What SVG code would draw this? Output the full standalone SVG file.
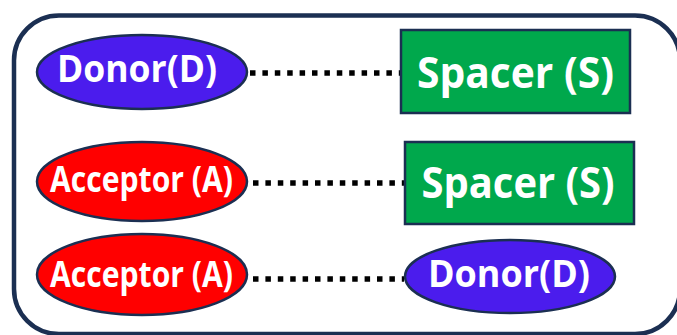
<svg xmlns="http://www.w3.org/2000/svg" width="677" height="335" viewBox="0 0 677 335">
  <style>
    .frame { fill: #ffffff; stroke: #1b2f52; stroke-width: 4.5; }
    .donor { fill: #4b1ced; stroke: #1b2f52; stroke-width: 2.5; }
    .acceptor { fill: #ff0000; stroke: #1b2f52; stroke-width: 2.5; }
    .spacer { fill: #00a84c; stroke: #1b2f52; stroke-width: 2.5; }
    .label { fill: #ffffff; font-family: "Open Sans", "Noto Sans", "Liberation Sans", sans-serif; font-weight: bold; text-anchor: middle; }
    .link { stroke: #000000; stroke-width: 5.5; stroke-dasharray: 5.5 6.9; fill: none; }
  </style>

  <!-- outer rounded container -->
  <rect class="frame" x="14" y="15.5" width="666" height="318.5" rx="45" ry="45"/>

  <!-- dotted connectors -->
  <g id="connectors">
    <line class="link" x1="250" y1="73" x2="400" y2="73"/>
    <line class="link" x1="253" y1="183" x2="404" y2="183"/>
    <line class="link" x1="253" y1="279" x2="404" y2="279"/>
  </g>

  <!-- row 1 -->
  <g id="donor1">
    <ellipse class="donor" cx="142" cy="72" rx="105" ry="37"/>
    <text class="label" x="137" y="82" font-size="37.5" textLength="160" lengthAdjust="spacingAndGlyphs">Donor(D)</text>
  </g>
  <g id="spacer1">
    <rect class="spacer" x="401" y="30" width="229" height="83"/>
    <text class="label" x="515.5" y="88" font-size="43" textLength="197" lengthAdjust="spacingAndGlyphs">Spacer (S)</text>
  </g>

  <!-- row 2 -->
  <g id="acceptor1">
    <ellipse class="acceptor" cx="142" cy="181.5" rx="105" ry="39.5"/>
    <text class="label" x="141.5" y="192" font-size="35" textLength="183" lengthAdjust="spacingAndGlyphs">Acceptor (A)</text>
  </g>
  <g id="spacer2">
    <rect class="spacer" x="405" y="142" width="229" height="82"/>
    <text class="label" x="518" y="198" font-size="43" textLength="193" lengthAdjust="spacingAndGlyphs">Spacer (S)</text>
  </g>

  <!-- row 3 -->
  <g id="acceptor2">
    <ellipse class="acceptor" cx="142" cy="274.5" rx="105" ry="40.5"/>
    <text class="label" x="141.5" y="287" font-size="35" textLength="183" lengthAdjust="spacingAndGlyphs">Acceptor (A)</text>
  </g>
  <g id="donor2">
    <ellipse class="donor" cx="510" cy="276.5" rx="105" ry="36.5"/>
    <text class="label" x="509" y="287" font-size="37.5" textLength="162" lengthAdjust="spacingAndGlyphs">Donor(D)</text>
  </g>
</svg>
